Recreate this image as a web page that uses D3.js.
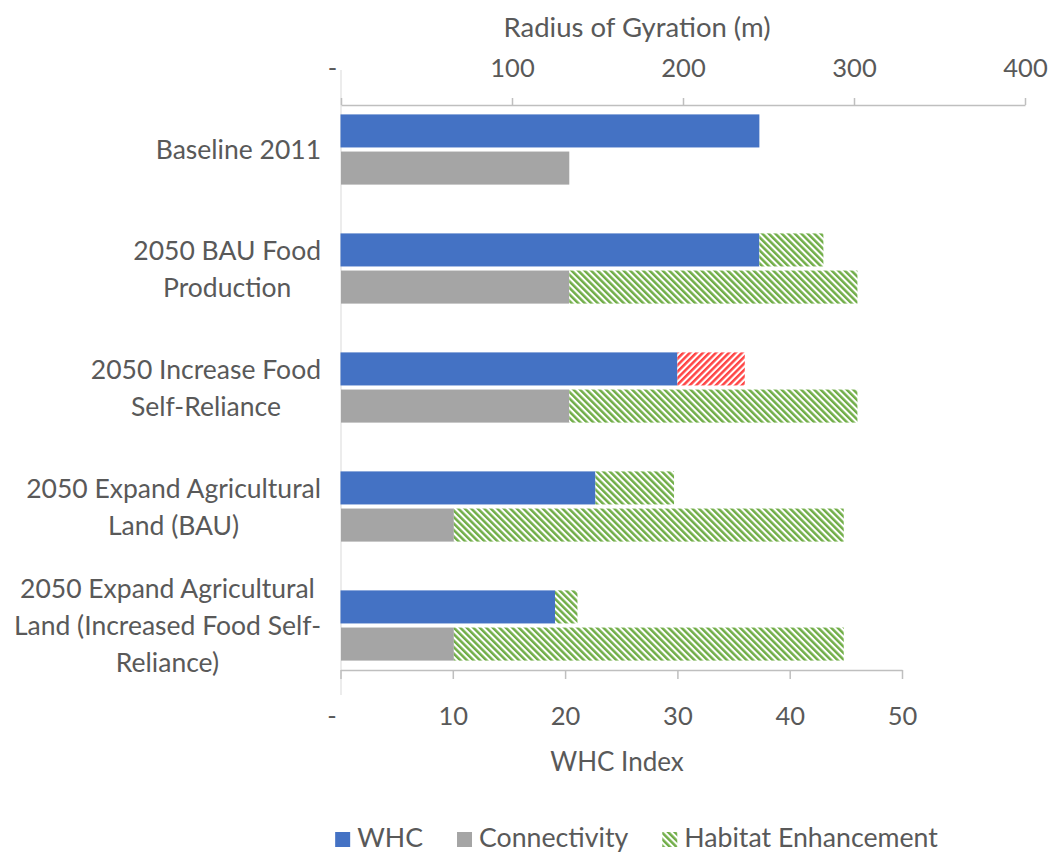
<!DOCTYPE html>
<html><head><meta charset="utf-8">
<script src="https://cdn.jsdelivr.net/npm/d3@7"></script>
<style>
body{margin:0;background:#fff}
svg text{font-family:Lato,"Open Sans",sans-serif;fill:#595959}
</style>
</head><body>
<svg id="chart" width="1049" height="854"></svg>
<script>
// ---- data ----
const categories = [
  "Baseline 2011",
  "2050 BAU Food\nProduction",
  "2050 Increase Food\nSelf-Reliance",
  "2050 Expand Agricultural\nLand (BAU)",
  "2050 Expand Agricultural\nLand (Increased Food Self-\nReliance)"
];
const whcIndex = [37.3, 37.3, 30.0, 22.7, 19.1];            // WHC Index (bottom axis)
const whcScenarioEnd = [null, 43.0, 36.0, 29.7, 21.1];     // end of hatched WHC segment
const whcScenarioType = [null, "gain", "loss", "gain", "gain"];
const connectivity = [133.5, 133.5, 133.5, 66, 66];        // Radius of Gyration (m) (top axis)
const connectivityEnhancedEnd = [null, 302, 302, 294, 294];
const whcTicks = [0, 10, 20, 30, 40, 50];
const rogTicks = [0, 100, 200, 300, 400];
const legendItems = ["WHC", "Connectivity", "Habitat Enhancement"];

// ---- setup ----
const svg = d3.select("#chart");
const C = {blue:"#4472C4", gray:"#A5A5A5", green:"#70AD47", red:"#FF4444", axis:"#BFBFBF", text:"#595959"};
const plotTop = 105, plotBottom = 670, plotLeft = 341;

const xW = d3.scaleLinear().domain([0, 50]).range([340.5, 902]);
const xR = d3.scaleLinear().domain([0, 400]).range([341, 1025]);
const y = d3.scaleBand().domain(categories).range([plotTop, plotBottom]).paddingInner(0.41).paddingOuter(0.079);
const ySub = d3.scaleBand().domain(["WHC", "Connectivity"]).range([0, y.bandwidth()]).paddingInner(0.11);

// patterns
const defs = svg.append("defs");
function hatch(id, color, angle) {
  const p = defs.append("pattern").attr("id", id).attr("patternUnits", "userSpaceOnUse")
    .attr("width", 4.6).attr("height", 10).attr("patternTransform", `rotate(${angle})`);
  p.append("rect").attr("width", 4.6).attr("height", 10).attr("fill", "#fff");
  p.append("rect").attr("width", 2.5).attr("height", 10).attr("fill", color);
}
hatch("hGreen", C.green, -45);
hatch("hRed", C.red, 45);

// category axis line
svg.append("line").attr("x1", plotLeft).attr("x2", plotLeft).attr("y1", plotTop - 35).attr("y2", plotBottom + 25)
  .attr("stroke", "#D9D9D9").attr("stroke-width", 1);

// ---- bars ----
const rows = categories.map((c, i) => ({c, i}));
const g = svg.append("g");
g.selectAll("rect.whc").data(rows).join("rect")
  .attr("x", d => xW(0)).attr("y", d => y(d.c) + ySub("WHC"))
  .attr("width", d => xW(whcIndex[d.i]) - xW(0)).attr("height", ySub.bandwidth())
  .attr("fill", C.blue);
g.selectAll("rect.whcx").data(rows.filter(d => whcScenarioEnd[d.i] != null)).join("rect")
  .attr("x", d => xW(whcIndex[d.i])).attr("y", d => y(d.c) + ySub("WHC"))
  .attr("width", d => xW(whcScenarioEnd[d.i]) - xW(whcIndex[d.i])).attr("height", ySub.bandwidth())
  .attr("fill", d => whcScenarioType[d.i] === "loss" ? "url(#hRed)" : "url(#hGreen)");
g.selectAll("rect.con").data(rows).join("rect")
  .attr("x", d => xR(0)).attr("y", d => y(d.c) + ySub("Connectivity"))
  .attr("width", d => xR(connectivity[d.i]) - xR(0)).attr("height", ySub.bandwidth())
  .attr("fill", C.gray);
g.selectAll("rect.conx").data(rows.filter(d => connectivityEnhancedEnd[d.i] != null)).join("rect")
  .attr("x", d => xR(connectivity[d.i])).attr("y", d => y(d.c) + ySub("Connectivity"))
  .attr("width", d => xR(connectivityEnhancedEnd[d.i]) - xR(connectivity[d.i])).attr("height", ySub.bandwidth())
  .attr("fill", "url(#hGreen)");

// ---- axes ----
function styleAxis(sel) {
  sel.select(".domain").attr("stroke", C.axis).attr("stroke-width", 1.5);
  sel.selectAll(".tick line").attr("stroke", C.axis).attr("stroke-width", 1.5);
  sel.selectAll(".tick text").attr("font-size", 25.5).attr("font-family", "Lato").attr("fill", C.text);
  sel.selectAll(".tick text").filter(d => d === 0).attr("dx", -9);
}
const topAxis = svg.append("g").attr("transform", `translate(0,${plotTop})`)
  .call(d3.axisTop(xR).tickValues(rogTicks).tickSize(7).tickSizeOuter(0).tickPadding(21)
    .tickFormat(d => d === 0 ? "-" : d));
styleAxis(topAxis);
const botAxis = svg.append("g").attr("transform", `translate(0,${plotBottom})`)
  .call(d3.axisBottom(xW).tickValues(whcTicks).tickSize(9).tickSizeOuter(0)
    .tickFormat(d => d === 0 ? "-" : d));
styleAxis(botAxis);
botAxis.selectAll(".tick text").attr("y", 55).attr("dy", 0);

// axis titles
svg.append("text").attr("x", 637).attr("y", 37).attr("text-anchor", "middle").attr("font-size", 27.5)
  .text("Radius of Gyration (m)");
svg.append("text").attr("x", 617).attr("y", 771).attr("text-anchor", "middle").attr("font-size", 26)
  .text("WHC Index");

// ---- category labels ----
const labelRight = 321, lineH = 37, catFont = 26.5;
categories.forEach(c => {
  const lines = c.split("\n");
  const cy = y(c) + y.bandwidth() / 2;
  const tg = svg.append("g");
  const ts = lines.map((l, k) => tg.append("text").attr("font-size", catFont).attr("text-anchor", "middle")
    .attr("y", cy + (k - (lines.length - 1) / 2) * lineH + catFont * 0.36).text(l));
  const maxW = d3.max(ts, t => t.node().getComputedTextLength());
  ts.forEach(t => t.attr("x", labelRight - maxW / 2));
});

// ---- legend ----
const legY = 847, sw = 15, legFont = 26.7;
const lg = svg.append("g");
let cx = 0;
const fills = [C.blue, C.gray, "url(#hGreen)"];
legendItems.forEach((name, i) => {
  lg.append("rect").attr("x", cx).attr("y", legY - sw).attr("width", sw).attr("height", sw).attr("fill", fills[i]);
  const t = lg.append("text").attr("x", cx + sw + 7).attr("y", legY).attr("font-size", legFont).text(name);
  cx += sw + 7 + t.node().getComputedTextLength() + 34;
});
const legW = cx - 34;
lg.attr("transform", `translate(${636.5 - legW / 2},0)`);
</script>
</body></html>
